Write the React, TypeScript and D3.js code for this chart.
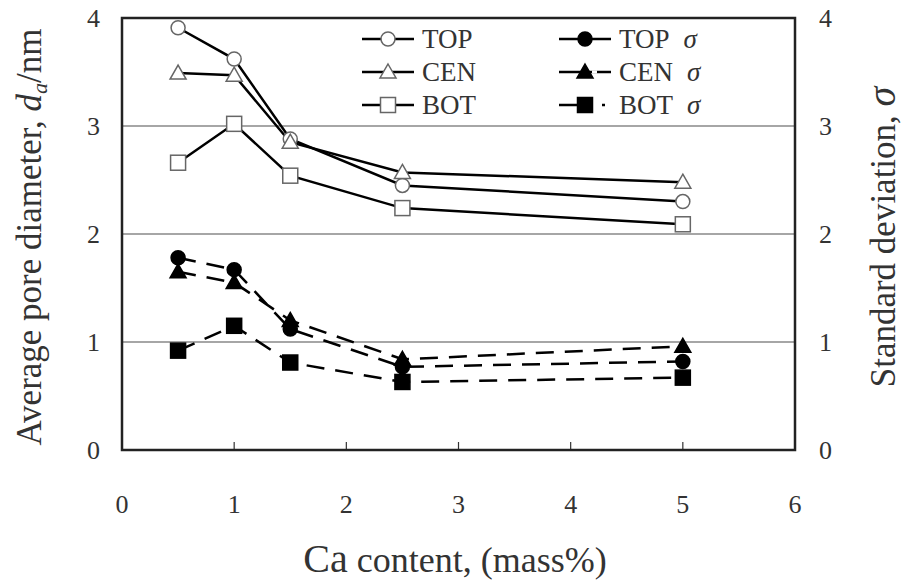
import React from "react";
import * as d3 from "d3";

const caContent = [0.5, 1, 1.5, 2.5, 5];
const topDiameter = [3.91, 3.62, 2.88, 2.45, 2.3];
const cenDiameter = [3.49, 3.47, 2.85, 2.57, 2.48];
const botDiameter = [2.66, 3.02, 2.54, 2.24, 2.09];
const topSigma = [1.78, 1.67, 1.12, 0.77, 0.82];
const cenSigma = [1.65, 1.55, 1.2, 0.84, 0.96];
const botSigma = [0.92, 1.15, 0.81, 0.63, 0.67];
const xTicks = [0, 1, 2, 3, 4, 5, 6];
const yTicks = [0, 1, 2, 3, 4];

const W = 903;
const H = 587;
const m = { left: 122, right: 795, top: 18, bottom: 450 };
const FONT = "'Liberation Serif', 'Times New Roman', serif";

type Series = {
  name: string;
  sigma: boolean;
  values: number[];
  marker: "circle" | "triangle" | "square";
  filled: boolean;
};

const series: Series[] = [
  { name: "TOP", sigma: false, values: topDiameter, marker: "circle", filled: false },
  { name: "CEN", sigma: false, values: cenDiameter, marker: "triangle", filled: false },
  { name: "BOT", sigma: false, values: botDiameter, marker: "square", filled: false },
  { name: "TOP", sigma: true, values: topSigma, marker: "circle", filled: true },
  { name: "CEN", sigma: true, values: cenSigma, marker: "triangle", filled: true },
  { name: "BOT", sigma: true, values: botSigma, marker: "square", filled: true },
];

function Marker({ kind, x, y, filled }: { kind: string; x: number; y: number; filled: boolean }) {
  const fill = filled ? "#000" : "#fff";
  const stroke = filled ? "#000" : "#666";
  if (kind === "circle") return <circle cx={x} cy={y} r={7} fill={fill} stroke={stroke} strokeWidth={1.5} />;
  if (kind === "square") return <rect x={x - 7.5} y={y - 7.5} width={15} height={15} fill={fill} stroke={stroke} strokeWidth={1.5} />;
  const s = 8;
  return (
    <path
      d={`M${x},${y - s} L${x + s},${y + s * 0.75} L${x - s},${y + s * 0.75} Z`}
      fill={fill}
      stroke={stroke}
      strokeWidth={1.5}
    />
  );
}

const txt = (size: number, extra: React.CSSProperties = {}): React.CSSProperties => ({
  fontFamily: FONT,
  fontSize: size,
  fill: "#333",
  ...extra,
});

export default function App() {
  const x = d3.scaleLinear().domain([0, 6]).range([m.left, m.right]);
  const y = d3.scaleLinear().domain([0, 4]).range([m.bottom, m.top]);
  const line = d3
    .line<number>()
    .x((_, i) => x(caContent[i]))
    .y((v) => y(v));

  const legendRows = [39, 72, 105];
  const legendCols = [362, 559];

  return (
    <svg width={W} height={H} style={{ position: "absolute", left: 0, top: 0, background: "#fff" }}>
      <rect width={W} height={H} fill="#fff" />
      {/* horizontal gridlines */}
      {[1, 2, 3].map((t) => (
        <line key={t} x1={m.left} x2={m.right} y1={y(t)} y2={y(t)} stroke="#888" strokeWidth={1.5} />
      ))}
      {/* x ticks, pointing inward */}
      {xTicks.slice(1, -1).map((t) => (
        <line key={t} x1={x(t)} x2={x(t)} y1={m.bottom} y2={m.bottom - 8} stroke="#333" strokeWidth={1.2} />
      ))}
      {/* frame */}
      <rect
        x={m.left}
        y={m.top}
        width={m.right - m.left}
        height={m.bottom - m.top}
        fill="none"
        stroke="#222"
        strokeWidth={2.5}
      />
      {/* data lines */}
      {series.map((s, i) => (
        <path
          key={i}
          d={line(s.values) || ""}
          fill="none"
          stroke="#000"
          strokeWidth={2.5}
          strokeDasharray={s.sigma ? "18 11" : undefined}
        />
      ))}
      {series.map((s, i) =>
        s.values.map((v, j) => (
          <Marker key={`${i}-${j}`} kind={s.marker} x={x(caContent[j])} y={y(v)} filled={s.filled} />
        ))
      )}
      {/* legend */}
      {series.map((s, i) => {
        const col = s.sigma ? 1 : 0;
        const row = i % 3;
        const lx = legendCols[col];
        const ly = legendRows[row];
        return (
          <g key={`lg${i}`}>
            <line
              x1={lx}
              x2={lx + 52}
              y1={ly}
              y2={ly}
              stroke="#000"
              strokeWidth={2.5}
              strokeDasharray={s.sigma && s.marker === "square" ? "18 25 3 30" : undefined}
            />
            {s.sigma && s.marker === "triangle" ? (
              <line x1={lx + 33} x2={lx + 38} y1={ly} y2={ly} stroke="#fff" strokeWidth={3} />
            ) : null}
            <Marker kind={s.marker} x={lx + 26} y={ly} filled={s.filled} />
            <text x={lx + 60} y={ly + 9} style={txt(27)}>
              {s.name}
              {s.sigma ? (
                <tspan style={{ fontStyle: "italic" }} dx={14}>
                  σ
                </tspan>
              ) : null}
            </text>
          </g>
        );
      })}
      {/* tick labels */}
      {yTicks.map((t) => (
        <text key={`l${t}`} x={m.left - 22} y={y(t) + 9} textAnchor="end" style={txt(26)}>
          {t}
        </text>
      ))}
      {yTicks.map((t) => (
        <text key={`r${t}`} x={m.right + 24} y={y(t) + 9} textAnchor="start" style={txt(26)}>
          {t}
        </text>
      ))}
      {xTicks.map((t) => (
        <text key={`x${t}`} x={x(t)} y={513} textAnchor="middle" style={txt(26)}>
          {t}
        </text>
      ))}
      {/* axis titles */}
      <text x={455} y={572} textAnchor="middle" style={txt(36)}>
        <tspan style={{ fontSize: 40 }}>Ca</tspan>
        <tspan style={{ fontSize: 36 }}> content, (mass%)</tspan>
      </text>
      <text transform={`translate(41, 237) rotate(-90)`} textAnchor="middle" style={txt(35)}>
        Average pore diameter,{" "}
        <tspan style={{ fontStyle: "italic" }}>d</tspan>
        <tspan style={{ fontStyle: "italic", fontSize: 22 }} dy={6}>a</tspan>
        <tspan dy={-6}>/nm</tspan>
      </text>
      <text transform={`translate(895, 237) rotate(-90)`} textAnchor="middle" style={txt(35)}>
        Standard deviation,{" "}
        <tspan style={{ fontStyle: "italic", fontSize: 40 }}>σ</tspan>
      </text>
    </svg>
  );
}
